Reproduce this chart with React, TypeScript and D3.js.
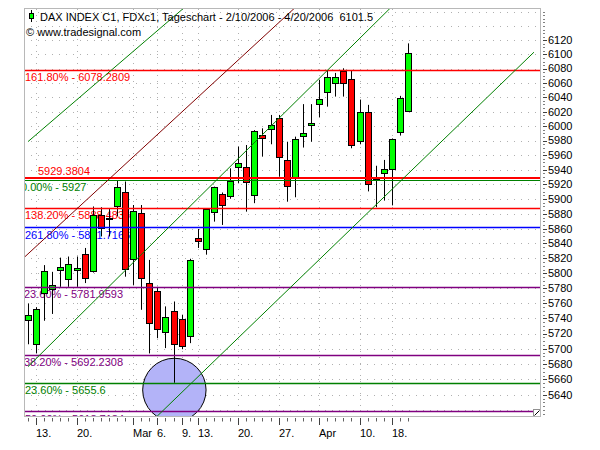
import React from 'react';
import * as d3 from 'd3';

// ---- data ----
const dates = [
  '2006-02-10','2006-02-13','2006-02-14','2006-02-15','2006-02-16','2006-02-17',
  '2006-02-20','2006-02-21','2006-02-22','2006-02-23','2006-02-24',
  '2006-02-27','2006-02-28','2006-03-01','2006-03-02','2006-03-03',
  '2006-03-06','2006-03-07','2006-03-08','2006-03-09','2006-03-10',
  '2006-03-13','2006-03-14','2006-03-15','2006-03-16','2006-03-17',
  '2006-03-20','2006-03-21','2006-03-22','2006-03-23','2006-03-24',
  '2006-03-27','2006-03-28','2006-03-29','2006-03-30','2006-03-31',
  '2006-04-03','2006-04-04','2006-04-05','2006-04-06','2006-04-07',
  '2006-04-10','2006-04-11','2006-04-12','2006-04-13',
  '2006-04-18','2006-04-19','2006-04-20'
];
const opens = [5738,5706,5773.5,5779,5804.5,5792,5804.5,5825.5,5803.5,5878.5,5874.5,5891,5909.5,5819,5881,5787,5777,5722.5,5750,5739,5717,5847,5832.5,5883,5907,5904.5,5943.5,5943.5,5905.5,5987.5,5996,6011,5953.5,5930.5,5987,6001,6030.5,6047,6059.5,6077,6065.5,5979.5,6019.5,5930,5935.5,5941,5992,6021.5];
const highs = [5760,5755,5811,5802,5821,5822.5,5822.5,5834,5890,5889,5886.5,5926,5924,5892,5892,5818,5782,5756,5762.5,5745,5819.5,5859.5,5887,5917,5909,5942,5972,5974,5994.5,5997,6015.5,6015.5,5978.5,5985.5,6030.5,6030.5,6064.5,6077.5,6074,6080.5,6077.5,6036.5,6029.5,5945.5,5953.5,5983,6042,6115.5];
const lows = [5706,5694,5737,5746,5782,5782,5782,5787,5801,5849.5,5849.5,5876.5,5795.5,5784.5,5751.5,5694,5714,5701,5655.6,5699.5,5707.5,5834,5825,5869.5,5865,5900.5,5922,5883,5894.5,5958,5975,5930.5,5896.5,5902.5,5970.5,5978.5,6012.4,6027,6041,6041,5969.5,5975,5910.5,5889,5898,5891.5,5987,6020];
const closes = [5745,5752,5803,5784.5,5808.5,5812.5,5807,5793.5,5878.5,5861.5,5874.5,5916.5,5805.5,5884,5793.5,5734,5726,5742,5706,5704,5818,5843.5,5886.5,5916.5,5891.5,5925,5949,5923,5993.5,5983.5,6002,5958,5918,5982,5990,6004,6037.5,6068,6068,6059.5,5974,6019.5,5920.5,5927,5941,5982,6039,6101.5];

const tickDates = ['2006-02-13','2006-02-20','2006-03-01','2006-03-06','2006-03-09','2006-03-13','2006-03-20','2006-03-27','2006-04-03','2006-04-10','2006-04-18'];
const tickLabels = ['13.','20.','Mar','6.','9.','13.','20.','27.','Apr','10.','18.'];

const levelValues = [6078.2809,5929.3804,5927,5888.4836,5861.7166,5781.9593,5692.2308,5655.6,5618.7184];
const levelLabels = ['161.80% - 6078.2809','5929.3804','0.00% - 5927','138.20% - 5888.4836','261.80% - 5861.7166','23.60% - 5781.9593','38.20% - 5692.2308','23.60% - 5655.6','50.00% - 5618.7184'];
const levelColors = ['#ff0000','#ff0000','#008000','#ff0000','#0000ff','#800080','#800080','#008000','#800080'];

// trend lines: [bar index, price]
const trendStarts = [[0,5978.7],[-1,5816.1],[0,5676.7],[14,5592.4]];
const trendEnds = [[25,6222.2],[40,6240.3],[50,6224.7],[62.58,6103.1]];
const trendColors = ['#008000','#800000','#008000','#008000'];

const markerCenter = [18.1, 5646.3];

const titleText = 'DAX INDEX C1, FDXc1, Tageschart - 2/10/2006 - 4/20/2006  6101.5';
const subText = '\u00a9 www.tradesignal.com';

export default function App() {
  const W = 600, H = 450;
  const L = 24, T = 9, R = 541, B = 417;
  const font = '"Liberation Sans", Arial, sans-serif';

  const x = d3.scaleLinear().domain([-0.5, 63.45]).range([L, R]);
  const y = d3.scaleLog().domain([5611.6, 6164.1]).range([416.7, 9]);
  const cy = (v: number) => Math.round(y(v)) + 0.5;

  const gridY = d3.range(5620, 6161, 20);
  const labelY = d3.range(5640, 6121, 20);
  const minorY = d3.range(5615, 6161, 5);
  const tickIdx = tickDates.map(d => dates.indexOf(d));
  // draw order of level lines: thick red 5929 on top of the green 5927 line
  const levelOrder = [0, 2, 1, 3, 4, 5, 6, 7, 8];

  const bw = 6;
  const line = d3.line<number[]>().x(d => x(d[0])).y(d => y(d[1]));

  return (
    <svg width={W} height={H} style={{ position: 'fixed', left: 0, top: 0, background: '#fff' }} fontFamily={font}>
      <defs>
        <clipPath id="plot"><rect x={L} y={T} width={R - L} height={B - T} /></clipPath>
      </defs>
      <rect x={0} y={0} width={W} height={H} fill="#fff" />
      <g clipPath="url(#plot)">
        {gridY.map(v => (
          <line key={'gy' + v} x1={L} x2={R} y1={cy(v)} y2={cy(v)} stroke="#b0b0b0" strokeDasharray="1,6" />
        ))}
        {tickIdx.map((i, k) => (
          <line key={'gx' + k} x1={Math.round(x(i)) + 0.5} x2={Math.round(x(i)) + 0.5} y1={T} y2={B} stroke="#b0b0b0" strokeDasharray="1,5" />
        ))}
        <circle cx={x(markerCenter[0])} cy={y(markerCenter[1])} r={31.7} fill="#b3b3f8" stroke="#000" strokeWidth={1} />
        {levelValues.map((v, k) => {
          const yy = y(v);
          const above = k === 1;
          const tx = k === 1 ? 38 : k === 2 ? 21 : (k === 5 || k === 6) ? 24 : 25;
          return (
            <text key={'lt' + k} x={tx} y={above ? yy - 2.5 : yy + 11.5} fill={levelColors[k]} fontSize={11}>{levelLabels[k]}</text>
          );
        })}
        {dates.map((d, i) => {
          const o = opens[i], c = closes[i];
          const up = c >= o;
          const cx = x(i);
          const top = Math.round(y(Math.max(o, c))) + 0.5;
          const bot = Math.round(y(Math.min(o, c))) + 0.5;
          return (
            <g key={'c' + i}>
              <line x1={Math.round(cx) + 0.5} x2={Math.round(cx) + 0.5} y1={y(highs[i])} y2={y(lows[i])} stroke="#000" strokeWidth={1} />
              <rect x={Math.round(cx) - bw / 2 + 0.5} y={top} width={bw} height={Math.max(1, bot - top)} fill={up ? '#00ff00' : '#ff0000'} stroke="#000" strokeWidth={1} />
            </g>
          );
        })}
        {levelOrder.map(k => {
          const v = levelValues[k];
          const yy = k === 1 ? Math.round(y(v)) : k === 2 ? Math.round(y(v)) + 1.5 : cy(v);
          return (
            <line key={'lv' + k} x1={L} x2={R} y1={yy} y2={yy} stroke={levelColors[k]} strokeWidth={k === 1 ? 2 : k === 2 ? 1 : 1.5} />
          );
        })}
        {trendStarts.map((s, k) => (
          <path key={'tr' + k} d={line([s, trendEnds[k]]) || ''} stroke={trendColors[k]} strokeWidth={1} fill="none" />
        ))}
        <rect x={533.5} y={409.5} width={7} height={7} fill="#fff" stroke="#909090" />
        <line x1={534.5} y1={415.5} x2={539.5} y2={410.5} stroke="#000" />
      </g>
      <rect x={L + 0.5} y={T - 0.5} width={R - L - 1} height={B - T} fill="none" stroke="#b8b8b8" strokeWidth={1} />

      {/* title */}
      <line x1={31.5} x2={31.5} y1={10} y2={22} stroke="#000" />
      <rect x={29.5} y={13.5} width={4} height={5} fill="#00ff00" stroke="#000" />
      <text x={40} y={20.5} fontSize={11} fill="#000" style={{ whiteSpace: 'pre' }}>{titleText}</text>
      <text x={26} y={36} fontSize={11} fill="#000">{subText}</text>

      {/* right axis */}
      {minorY.map(v => (
        <line key={'mt' + v} x1={543} x2={545} y1={cy(v)} y2={cy(v)} stroke="#808080" />
      ))}
      {labelY.map(v => (
        <g key={'ry' + v}>
          <line x1={543} x2={547} y1={cy(v)} y2={cy(v)} stroke="#404040" />
          <text x={548} y={y(v)} dy="0.35em" fontSize={11} fill="#000">{v}</text>
        </g>
      ))}

      {/* bottom axis */}
      {dates.map((d, i) => (
        <line key={'bt' + i} x1={Math.round(x(i)) + 0.5} x2={Math.round(x(i)) + 0.5} y1={418} y2={421.5} stroke="#606060" />
      ))}
      {tickIdx.map((i, k) => (
        <g key={'bl' + k}>
          <line x1={Math.round(x(i)) + 0.5} x2={Math.round(x(i)) + 0.5} y1={418} y2={425} stroke="#404040" />
          <text x={Math.round(x(i))} y={437} fontSize={11} fill="#000">{tickLabels[k]}</text>
        </g>
      ))}
    </svg>
  );
}
